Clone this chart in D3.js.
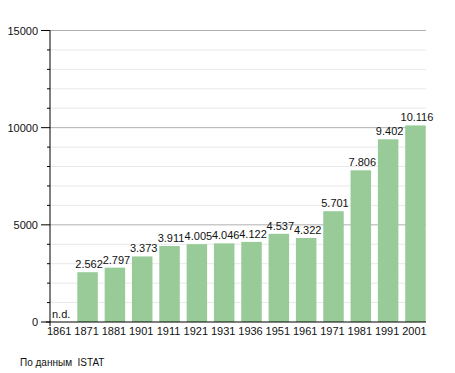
<!doctype html>
<html>
<head>
  <meta charset="utf-8">
  <title>Popolazione</title>
  <script src="https://d3js.org/d3.v7.min.js"></script>
  <style>
  body { margin: 0; background: #fff; }
  svg { display: block; font-family: "Liberation Sans", Arial, sans-serif; }
  </style>
</head>
<body>
  <div id="vis"></div>
  <script>
  var years = ['1861', '1871', '1881', '1901', '1911', '1921', '1931', '1936', '1951', '1961', '1971', '1981', '1991', '2001'];
  var population = [null, 2562, 2797, 3373, 3911, 4005, 4046, 4122, 4537, 4322, 5701, 7806, 9402, 10116];
  var majorTicks = [0, 5000, 10000, 15000];
  var source = 'По данным  ISTAT';

  var width = 455, height = 373;
  var svg = d3.select('#vis').append('svg')
    .attr('width', width)
    .attr('height', height);

  var x = d3.scaleBand().domain(years).range([50, 425.7]).paddingInner(0.25).paddingOuter(0);
  var y = d3.scaleLinear().domain([0, 15000]).range([322, 30.5]);

  var fmt = d3.formatLocale({ decimal: ',', thousands: '.', grouping: [3], currency: ['', ''] }).format(',d');

  // grid
  svg.selectAll('.minor').data(d3.range(1000, 15000, 1000).filter(function(d){ return d % 5000 !== 0; }))
    .enter().append('line')
      .attr('x1', 50).attr('x2', 426)
      .attr('y1', function(d){ return y(d); }).attr('y2', function(d){ return y(d); })
      .attr('stroke', '#e8e8e8').attr('stroke-width', 1);
  svg.selectAll('.major').data(majorTicks.slice(1))
    .enter().append('line')
      .attr('x1', 50).attr('x2', 426)
      .attr('y1', function(d){ return y(d); }).attr('y2', function(d){ return y(d); })
      .attr('stroke', '#b0b0b0').attr('stroke-width', 1);

  // bars
  var data = years.map(function(yr, i){ return { year: yr, value: population[i] }; });
  svg.selectAll('rect').data(data.filter(function(d){ return d.value !== null; }))
    .enter().append('rect')
      .attr('x', function(d){ return x(d.year); })
      .attr('width', x.bandwidth())
      .attr('y', function(d){ return y(d.value); })
      .attr('height', function(d){ return y(0) - y(d.value); })
      .attr('fill', '#98cb98');

  svg.selectAll('.val').data(data)
    .enter().append('text')
      .attr('font-size', 11)
      .attr('fill', '#111')
      .attr('text-anchor', function(d){ return d.value === null ? 'start' : 'middle'; })
      .attr('x', function(d){ return d.value === null ? x(d.year) + 2 : x(d.year) + x.bandwidth() / 2 + 1.5; })
      .attr('y', function(d){ return d.value === null ? y(0) - 4 : y(d.value) - 4; })
      .text(function(d){ return d.value === null ? 'n.d.' : fmt(d.value); });

  // y axis
  svg.selectAll('.mtick').data(d3.range(0, 15001, 1000))
    .enter().append('line')
      .attr('x1', function(d){ return d % 5000 === 0 ? 41 : 47; }).attr('x2', 50)
      .attr('y1', function(d){ return y(d); }).attr('y2', function(d){ return y(d); })
      .attr('stroke', '#000');
  svg.append('line').attr('x1', 50).attr('x2', 50).attr('y1', y(15000)).attr('y2', y(0) + 4).attr('stroke', '#000');
  svg.selectAll('.ylab').data(majorTicks)
    .enter().append('text')
      .attr('font-size', 11)
      .attr('text-anchor', 'end')
      .attr('x', 38)
      .attr('y', function(d){ return y(d) + 4; })
      .attr('fill', '#111')
      .text(function(d){ return d; });

  // x axis
  svg.append('line').attr('x1', 46).attr('x2', 426).attr('y1', y(0)).attr('y2', y(0)).attr('stroke', '#000');
  svg.selectAll('.xlab').data(years)
    .enter().append('text')
      .attr('font-size', 11)
      .attr('text-anchor', 'middle')
      .attr('x', function(d){ return x(d) + x.bandwidth() / 2 - 1; })
      .attr('y', 335)
      .attr('fill', '#111')
      .text(function(d){ return d; });

  svg.append('text')
    .attr('x', 20).attr('y', 366)
    .attr('font-size', 10)
    .attr('fill', '#111')
    .style('white-space', 'pre')
    .text(source);
  </script>
</body>
</html>
